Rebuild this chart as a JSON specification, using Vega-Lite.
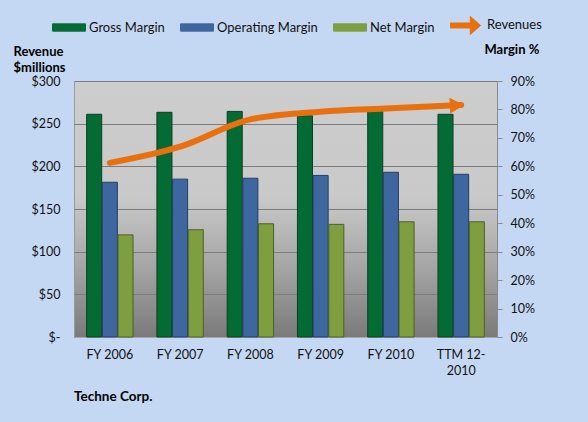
{
  "$schema": "https://vega.github.io/schema/vega-lite/v6.json",
  "width": 423,
  "height": 256,
  "autosize": {"type": "none"},
  "padding": {"left": 74, "top": 81, "right": 91, "bottom": 85},
  "background": "#c5d8f3",
  "config": {
    "font": "Lato",
    "view": {
      "stroke": "#9a9a9a",
      "fill": {
        "gradient": "linear",
        "x1": 0, "y1": 0, "x2": 0, "y2": 1,
        "stops": [
          {"offset": 0, "color": "#cdcdcd"},
          {"offset": 0.45, "color": "#c9c9c9"},
          {"offset": 0.72, "color": "#a6a6a6"},
          {"offset": 1, "color": "#7a7a7a"}
        ]
      }
    },
    "axis": {"labelFont": "Lato", "labelFontSize": 12.5, "labelColor": "#111111", "titleFont": "Lato", "titleColor": "#000000"}
  },
  "title": {
    "text": "Techne Corp.",
    "orient": "bottom",
    "anchor": "start",
    "frame": "group",
    "font": "Lato",
    "fontSize": 13.5,
    "fontWeight": "bold",
    "color": "#000000",
    "offset": 13
  },
  "data": {
    "values": [
      {"period": "FY 2006", "series": "Gross Margin", "value": 0.783},
      {"period": "FY 2007", "series": "Gross Margin", "value": 0.790},
      {"period": "FY 2008", "series": "Gross Margin", "value": 0.793},
      {"period": "FY 2009", "series": "Gross Margin", "value": 0.778},
      {"period": "FY 2010", "series": "Gross Margin", "value": 0.796},
      {"period": "TTM 12-2010", "series": "Gross Margin", "value": 0.783},
      {"period": "FY 2006", "series": "Operating Margin", "value": 0.544},
      {"period": "FY 2007", "series": "Operating Margin", "value": 0.555},
      {"period": "FY 2008", "series": "Operating Margin", "value": 0.558},
      {"period": "FY 2009", "series": "Operating Margin", "value": 0.568},
      {"period": "FY 2010", "series": "Operating Margin", "value": 0.579},
      {"period": "TTM 12-2010", "series": "Operating Margin", "value": 0.572},
      {"period": "FY 2006", "series": "Net Margin", "value": 0.359},
      {"period": "FY 2007", "series": "Net Margin", "value": 0.377},
      {"period": "FY 2008", "series": "Net Margin", "value": 0.398},
      {"period": "FY 2009", "series": "Net Margin", "value": 0.396},
      {"period": "FY 2010", "series": "Net Margin", "value": 0.405},
      {"period": "TTM 12-2010", "series": "Net Margin", "value": 0.405},
      {"period": "FY 2006", "series": "Revenues", "value": 204},
      {"period": "FY 2007", "series": "Revenues", "value": 223},
      {"period": "FY 2008", "series": "Revenues", "value": 255},
      {"period": "FY 2009", "series": "Revenues", "value": 264},
      {"period": "FY 2010", "series": "Revenues", "value": 268},
      {"period": "TTM 12-2010", "series": "Revenues", "value": 272}
    ]
  },
  "encoding": {
    "x": {
      "field": "period",
      "type": "nominal",
      "sort": null,
      "scale": {"paddingInner": 0.34, "paddingOuter": 0.18},
      "axis": {
        "title": null,
        "labelAngle": 0,
        "labelPadding": 11,
        "labelLineHeight": 16,
        "labelExpr": "datum.value == 'TTM 12-2010' ? ['TTM 12-', '2010'] : datum.value",
        "domain": true,
        "domainColor": "#a8a8a8",
        "ticks": false
      }
    }
  },
  "layer": [
    {
      "transform": [{"filter": "datum.series != 'Revenues'"}],
      "mark": {"type": "bar", "strokeWidth": 1},
      "encoding": {
        "color": {
          "field": "series",
          "type": "nominal",
          "scale": {
            "domain": ["Gross Margin", "Operating Margin", "Net Margin", "Revenues"],
            "range": ["#046b34", "#3e67a0", "#7f9e40", "#e8700e"]
          },
          "legend": {
            "title": null,
            "orient": "none",
            "direction": "horizontal",
            "columns": 4,
            "legendX": -22,
            "legendY": -73,
            "columnPadding": 13,
            "labelFont": "Lato",
            "labelFontSize": 13,
            "labelColor": "#111111",
            "labelOffset": 3,
            "symbolSize": 1089,
            "symbolType": "M-1,-0.22L1,-0.22L1,0.22L-1,0.22Z",
            "symbolOpacity": 1,
            "symbolStrokeWidth": 1,
            "encode": {
              "symbols": {
                "update": {
                  "shape": {"signal": "datum.value == 'Revenues' ? 'M-1,-0.15L0.2,-0.15L0.2,-0.55L0.82,0L0.2,0.55L0.2,0.15L-1,0.15Z' : 'M-1,-0.22L1,-0.22L1,0.22L-1,0.22Z'"},
                  "fill": {"signal": "scale('color', datum.value)"},
                  "fillOpacity": {"value": 1},
                  "opacity": {"value": 1},
                  "stroke": {"signal": "datum.value == 'Gross Margin' ? '#0c3f22' : datum.value == 'Operating Margin' ? '#243e63' : datum.value == 'Net Margin' ? '#4c6024' : 'transparent'"},
                  "strokeWidth": {"value": 1}
                }
              }
            }
          }
        },
        "xOffset": {
          "field": "series",
          "type": "nominal",
          "scale": {"domain": ["Gross Margin", "Operating Margin", "Net Margin"], "paddingInner": 0.04}
        },
        "y": {
          "field": "value",
          "type": "quantitative",
          "scale": {"domain": [0, 0.9], "nice": false},
          "axis": {
            "orient": "right",
            "values": [0, 0.1, 0.2, 0.3, 0.4, 0.5, 0.6, 0.7, 0.8, 0.9],
            "format": ".0%",
            "grid": false,
            "domain": true,
            "domainColor": "#8a8a8a",
            "ticks": true,
            "tickColor": "#8a8a8a",
            "tickSize": 5,
            "labelPadding": 8,
            "title": "Margin %",
            "titleAngle": 0,
            "titleAlign": "left",
            "titleBaseline": "alphabetic",
            "titleX": -13,
            "titleY": -28,
            "titleFontSize": 13,
            "titleFontWeight": "bold"
          }
        },
        "stroke": {
          "field": "series",
          "type": "nominal",
          "scale": {
            "domain": ["Gross Margin", "Operating Margin", "Net Margin"],
            "range": ["#0c3f22", "#243e63", "#4c6024"]
          },
          "legend": null
        }
      }
    },
    {
      "transform": [{"filter": "datum.series == 'Revenues'"}],
      "mark": {"type": "line", "strokeWidth": 6, "interpolate": "monotone", "strokeCap": "round"},
      "encoding": {
        "color": {"field": "series", "type": "nominal", "legend": null},
        "y": {
          "field": "value",
          "type": "quantitative",
          "scale": {"domain": [0, 300], "nice": false},
          "axis": {
            "orient": "left",
            "values": [0, 50, 100, 150, 200, 250, 300],
            "labelExpr": "datum.value == 0 ? '$-' : '$' + datum.value",
            "grid": true,
            "gridColor": "#7c7c7c",
            "gridWidth": 1,
            "domain": false,
            "ticks": false,
            "labelPadding": 14,
            "title": ["Revenue", "$millions"],
            "titleAngle": 0,
            "titleAlign": "left",
            "titleBaseline": "alphabetic",
            "titleX": -61,
            "titleY": -26,
            "titleLineHeight": 16,
            "titleFontSize": 13,
            "titleFontWeight": "bold"
          }
        }
      }
    },
    {
      "transform": [{"filter": "datum.series == 'Revenues' && datum.period == 'TTM 12-2010'"}],
      "mark": {
        "type": "point",
        "shape": "M-1.2,-0.65L0,0L-1.2,0.65Z",
        "size": 576,
        "filled": true,
        "opacity": 1,
        "angle": -3,
        "xOffset": 3
      },
      "encoding": {
        "color": {"field": "series", "type": "nominal", "legend": null},
        "y": {"field": "value", "type": "quantitative", "scale": {"domain": [0, 300], "nice": false}, "axis": null}
      }
    }
  ],
  "resolve": {"scale": {"y": "independent", "stroke": "independent"}}
}
